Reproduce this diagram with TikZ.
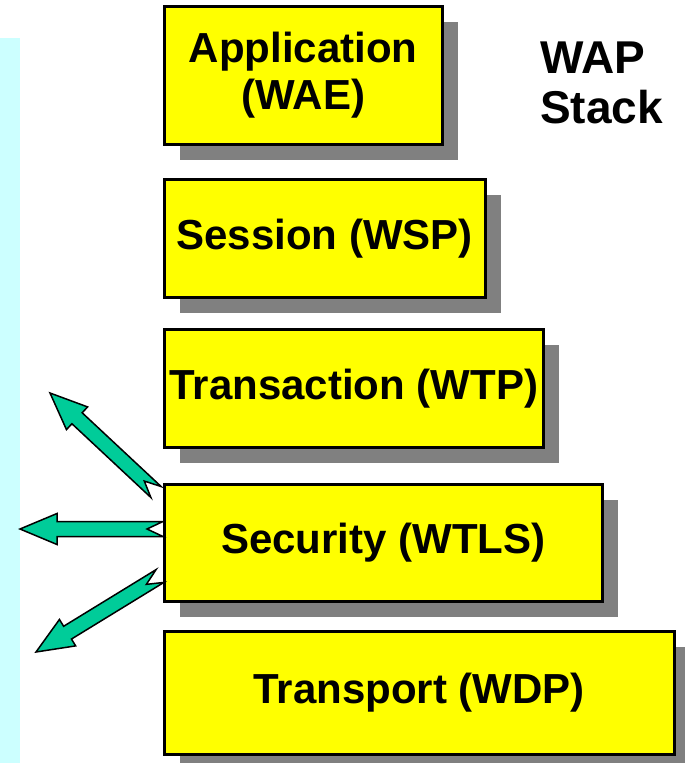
\documentclass[tikz,border=0pt]{standalone}
\usepackage{fontspec}
\setmainfont{Liberation Sans}
\usetikzlibrary{calc,shadows}
\definecolor{boxyellow}{HTML}{FFFF00}
\definecolor{shade}{HTML}{808080}
\definecolor{strip}{HTML}{CCFFFF}
\definecolor{teal}{HTML}{00CC99}

\begin{document}
\begin{tikzpicture}[x=1pt,y=-1pt,
  layer/.style={draw=black,line width=2.5pt,fill=boxyellow,anchor=north west,
    inner sep=0pt,align=center,font=\fontsize{42}{47}\selectfont\bfseries,
    drop shadow={shadow xshift=16pt,shadow yshift=-16pt,fill=shade,opacity=1}},
  % fat block arrow with a notched tail, tip at the target
  fatarrow/.style={draw=black,line width=1.5pt,line join=miter,fill=teal,
    to path={
      ($(\tikztostart)!7.5pt!90:(\tikztotarget)$)
      -- ($(\tikztotarget)!37pt!(\tikztostart)!7.5pt!90:(\tikztotarget)$)
      -- ($(\tikztotarget)!37pt!(\tikztostart)!15.5pt!90:(\tikztotarget)$)
      -- (\tikztotarget)
      -- ($(\tikztotarget)!37pt!(\tikztostart)!15.5pt!-90:(\tikztotarget)$)
      -- ($(\tikztotarget)!37pt!(\tikztostart)!7.5pt!-90:(\tikztotarget)$)
      -- ($(\tikztostart)!7.5pt!-90:(\tikztotarget)$)
      -- ($(\tikztostart)!16pt!(\tikztotarget)$)
      -- cycle}}]
\useasboundingbox (0,0) rectangle (685,763);
\fill[strip] (0,38) rectangle (20,763);

% the protocol layers
\node[layer,minimum width=278pt,minimum height=138pt] (app) at (163,5) {Application\\(WAE)};
\node[layer,minimum width=321pt,minimum height=118pt] (ses) at (163,178) {Session (WSP)};
\node[layer,minimum width=379pt,minimum height=118pt] (trn) at (163,328) {Transaction (WTP)};
\node[layer,minimum width=438pt,minimum height=117pt] (sec) at (163,483) {Security (WTLS)};
\node[layer,minimum width=510pt,minimum height=123pt] (tsp) at (163,630) {Transport (WDP)};

\node[anchor=north west,inner sep=0pt,align=left,font=\fontsize{46}{50}\selectfont\bfseries]
  (title) at (540,42) {WAP\\Stack};

% arrows leaving the security layer
\coordinate (tailUp) at ($(sec.north west)+(-7,9)$);
\coordinate (tailMid) at ($(sec.north west)+(0,46)$);
\coordinate (tailLow) at ($(sec.north west)+(-3,93)$);
\coordinate (tipUp) at (50,393);
\coordinate (tipMid) at (20,529);
\coordinate (tipLow) at (36,652);
\draw[fatarrow] (tailUp) to (tipUp);
\draw[fatarrow] (tailMid) to (tipMid);
\draw[fatarrow] (tailLow) to (tipLow);
\end{tikzpicture}
\end{document}
